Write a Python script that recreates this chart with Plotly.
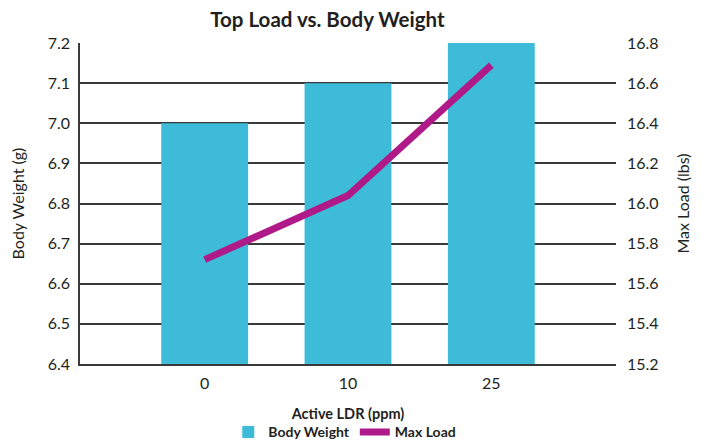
import plotly.graph_objects as go

categories = ["0", "10", "25"]
body_weight = [7.0, 7.1, 7.2]
max_load = [15.72, 16.04, 16.69]
left_ticks = [6.4, 6.5, 6.6, 6.7, 6.8, 6.9, 7.0, 7.1, 7.2]
right_ticks = [15.2, 15.4, 15.6, 15.8, 16.0, 16.2, 16.4, 16.6, 16.8]

FONT = "Lato"
TXT = "#231f20"
GRID = "#3a3a3a"

fig = go.Figure()
fig.add_trace(go.Bar(
    x=categories, y=body_weight, name="<b>Body Weight</b>",
    marker=dict(color="#3DBBD9", line=dict(width=0)),
    width=0.606,
))
fig.add_trace(go.Scatter(
    x=categories, y=max_load, name="<b>Max Load</b>", yaxis="y2",
    mode="lines", line=dict(color="#B01A88", width=7),
))

# page body has an 8px margin, so the figure is 8px smaller than the window
fig.update_layout(
    width=699, height=434,
    margin=dict(l=72, r=91, t=35, b=78, autoexpand=False),
    paper_bgcolor="white", plot_bgcolor="white",
    font=dict(family=FONT, color=TXT, size=15),
    title=dict(text="<b>Top Load vs. Body Weight</b>", x=0.457, xanchor="center",
               y=0.9735, yanchor="middle", font=dict(size=20.5, family=FONT, color=TXT)),
    xaxis=dict(type="category", range=[-0.87, 2.87], showgrid=False,
               showline=True, linecolor=GRID, linewidth=1.5,
               ticks="", ticklabelstandoff=4, automargin=False,
               tickfont=dict(size=16),
               title=dict(text="<b>Active LDR (ppm)</b>", font=dict(size=14.5), standoff=18)),
    yaxis=dict(range=[6.4, 7.2], tickvals=left_ticks, tickformat=".1f",
               showgrid=True, gridcolor=GRID, gridwidth=1.5,
               showline=True, linecolor=GRID, linewidth=1.5,
               ticks="", ticklabelstandoff=5, zeroline=False, automargin=False,
               tickfont=dict(size=16),
               title=dict(text="Body Weight (g)", font=dict(size=16), standoff=19)),
    yaxis2=dict(range=[15.2, 16.8], tickvals=right_ticks, tickformat=".1f",
                overlaying="y", side="right", showgrid=False, showline=False,
                ticks="", ticklabelstandoff=10, zeroline=False, automargin=False,
                tickfont=dict(size=16),
                title=dict(text="Max Load (lbs)", font=dict(size=16), standoff=20)),
    legend=dict(orientation="h", x=0.494, xanchor="center", y=-0.163, yanchor="top",
                font=dict(size=14, family=FONT, color=TXT), traceorder="normal",
                itemwidth=30, bgcolor="rgba(0,0,0,0)"),
    showlegend=True,
)

fig.write_html("out.html")
